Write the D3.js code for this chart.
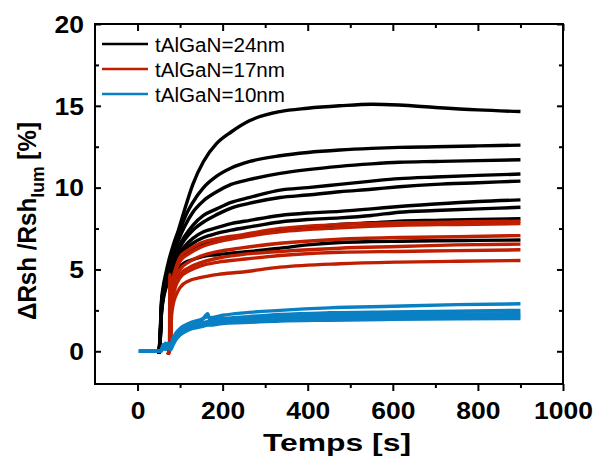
<!DOCTYPE html>
<html><head><meta charset="utf-8">
<script src="https://cdn.jsdelivr.net/npm/d3@7"></script>
<style>body{margin:0;background:#fff}</style></head>
<body><svg id="c" width="595" height="457"></svg>
<script>
// ---- data ----
const xTicks = [0, 200, 400, 600, 800, 1000];
const xMinor = [100, 300, 500, 700, 900];
const yTicks = [0, 5, 10, 15, 20];
const yMinor = [2.5, 7.5, 12.5, 17.5];
const legendLabels = ["tAlGaN=24nm", "tAlGaN=17nm", "tAlGaN=10nm"];

// tAlGaN = 24 nm (black)
const tBlack = [50, 53, 56, 60, 66, 74, 84, 96, 110, 130, 155, 186, 220, 264, 335, 400, 475, 550, 615, 700, 800, 900];
const black1 = [-0.15, 1.0, 3.0, 3.9, 4.7, 5.6, 6.5, 7.4, 8.6, 10.2, 11.6, 12.7, 13.4, 14.1, 14.65, 14.85, 15.0, 15.1, 15.05, 14.9, 14.75, 14.65];
const black2 = [-0.15, 0.8, 2.8, 3.7, 4.5, 5.3, 6.2, 7.1, 8.1, 9.1, 10.0, 10.7, 11.2, 11.6, 11.95, 12.15, 12.3, 12.4, 12.46, 12.5, 12.55, 12.6];
const black3 = [-0.15, 0.8, 2.7, 3.6, 4.4, 5.2, 6.0, 6.8, 7.6, 8.5, 9.2, 9.75, 10.2, 10.5, 10.87, 11.1, 11.3, 11.45, 11.55, 11.6, 11.65, 11.7];
const black4 = [-0.15, 0.7, 2.6, 3.5, 4.3, 5.0, 5.7, 6.4, 7.0, 7.7, 8.3, 8.7, 9.1, 9.4, 9.85, 10.0, 10.2, 10.4, 10.55, 10.65, 10.75, 10.83];
const black5 = [-0.15, 0.7, 2.5, 3.4, 4.2, 4.9, 5.6, 6.2, 6.8, 7.4, 7.9, 8.35, 8.75, 9.05, 9.4, 9.55, 9.75, 9.9, 10.05, 10.2, 10.3, 10.4];
const black6 = [-0.15, 0.6, 2.4, 3.3, 4.1, 4.8, 5.4, 5.9, 6.4, 6.9, 7.3, 7.55, 7.8, 8.0, 8.3, 8.45, 8.55, 8.7, 8.85, 9.0, 9.15, 9.25];
const black7 = [-0.15, 0.6, 2.4, 3.3, 4.0, 4.7, 5.3, 5.8, 6.2, 6.6, 6.95, 7.2, 7.4, 7.6, 7.9, 8.05, 8.15, 8.3, 8.5, 8.6, 8.7, 8.8];
const black8 = [-0.15, 0.5, 2.3, 3.2, 3.9, 4.6, 5.1, 5.5, 5.9, 6.2, 6.5, 6.7, 6.9, 7.1, 7.4, 7.55, 7.75, 7.85, 7.95, 8.0, 8.05, 8.1];
const black9 = [-0.15, 0.5, 2.2, 3.1, 3.8, 4.4, 4.8, 5.1, 5.4, 5.6, 5.8, 5.9, 6.0, 6.1, 6.3, 6.5, 6.65, 6.7, 6.72, 6.75, 6.78, 6.8];

// tAlGaN = 17 nm (red)
const tRed = [72, 75, 76, 77, 80, 84, 90, 100, 120, 147, 190, 241, 335, 475, 615, 750, 900];
const red1 = [-0.2, 0.3, 4.7, 0.6, 3.6, 4.5, 5.1, 5.75, 6.2, 6.6, 6.9, 7.1, 7.5, 7.75, 7.85, 7.9, 7.95];
const red2 = [-0.2, 0.2, 0.4, 0.8, 3.4, 4.3, 4.9, 5.5, 5.95, 6.35, 6.7, 6.95, 7.3, 7.55, 7.7, 7.75, 7.8];
const red3 = [-0.2, 0.2, 0.3, 0.6, 3.0, 3.9, 4.5, 5.0, 5.45, 5.8, 6.1, 6.3, 6.6, 6.85, 6.95, 7.0, 7.07];
const red4 = [-0.2, 0.1, 0.2, 0.5, 2.8, 3.6, 4.2, 4.7, 5.1, 5.4, 5.7, 5.9, 6.1, 6.3, 6.4, 6.5, 6.55];
const red5 = [-0.2, 0.1, 0.2, 0.4, 2.6, 3.4, 4.0, 4.5, 4.9, 5.2, 5.45, 5.6, 5.85, 6.05, 6.1, 6.15, 6.2];
const red6 = [-0.2, 0.0, 0.1, 0.3, 2.2, 2.9, 3.4, 3.9, 4.3, 4.5, 4.7, 4.83, 5.14, 5.35, 5.45, 5.5, 5.55];

// tAlGaN = 10 nm (blue)
const tBlue = [3, 55, 60, 66, 72, 78, 82, 90, 100, 120, 150, 165, 170, 200, 250, 335, 450, 600, 750, 900];
const blue1 = [0, 0, 0.4, 0.2, 0.5, 0.3, 0.7, 1.1, 1.4, 1.7, 1.95, 2.1, 2.05, 2.2, 2.35, 2.5, 2.65, 2.75, 2.85, 2.9];
const blue2 = [0, 0, 0.3, 0.5, 0.2, 0.2, 0.6, 1.0, 1.3, 1.6, 1.85, 2.3, 1.9, 2.0, 2.1, 2.25, 2.35, 2.4, 2.45, 2.5];
const blue3 = [0, 0, 0.2, 0.3, 0.4, 0.1, 0.5, 0.9, 1.2, 1.5, 1.7, 1.8, 1.8, 1.9, 2.0, 2.1, 2.2, 2.25, 2.28, 2.3];
const blue4 = [0, 0, 0.3, 0.1, 0.3, 0.2, 0.4, 0.8, 1.1, 1.4, 1.6, 1.7, 1.7, 1.8, 1.9, 2.0, 2.05, 2.1, 2.12, 2.15];
const blue5 = [0, 0, 0.2, 0.4, 0.2, 0.1, 0.3, 0.7, 1.0, 1.3, 1.5, 1.6, 1.6, 1.7, 1.75, 1.85, 1.9, 1.95, 1.98, 2.0];

const COL_BLACK = "#000000", COL_RED = "#c01e00", COL_BLUE = "#0a80c4";

// ---- drawing ----
const svg = d3.select("#c");
svg.append("rect").attr("width", 595).attr("height", 457).attr("fill", "#fff");
const L = 95, R = 563, T = 24, B = 384;
const x = d3.scaleLinear().domain([-100, 1000]).range([L, R]);
const y = d3.scaleLinear().domain([-2, 20]).range([B, T]);

function stretch(sel, k) {
  sel.each(function () {
    const w = this.getComputedTextLength();
    d3.select(this).attr("textLength", w * k).attr("lengthAdjust", "spacingAndGlyphs");
  });
}

const line = d3.line().x(d => x(d[0])).y(d => y(d[1])).curve(d3.curveMonotoneX);
const plot = svg.append("g");
function series(ts, vs, col) {
  plot.append("path").datum(ts.map((t, i) => [t, vs[i]]))
    .attr("d", line).attr("fill", "none").attr("stroke", col)
    .attr("stroke-width", 3.4).attr("stroke-linejoin", "round");
}
[black1, black2, black3, black4, black5, black6, black7, black8, black9].forEach(v => series(tBlack, v, COL_BLACK));
[red1, red2, red3, red4, red5, red6].forEach(v => series(tRed, v, COL_RED));
[blue1, blue2, blue3, blue4, blue5].forEach(v => series(tBlue, v, COL_BLUE));

// axes
const fnt = "'Liberation Sans', Arial, sans-serif";
const bottom = d3.axisBottom(x).tickValues(xTicks).tickSize(7).tickPadding(9).tickFormat(d3.format("d"));
const gB = svg.append("g").attr("transform", `translate(0,${B})`).call(bottom);
svg.append("g").attr("transform", `translate(0,${B})`).call(d3.axisBottom(x).tickValues(xMinor).tickSize(4).tickFormat(""));
svg.append("g").attr("transform", `translate(0,${T})`).call(d3.axisBottom(x).tickValues(xTicks).tickSize(7).tickFormat(""));
svg.append("g").attr("transform", `translate(0,${T})`).call(d3.axisBottom(x).tickValues(xMinor).tickSize(4).tickFormat(""));
const gL = svg.append("g").attr("transform", `translate(${L},0)`).call(d3.axisRight(y).tickValues(yTicks).tickSize(6).tickFormat(d3.format("d")));
svg.append("g").attr("transform", `translate(${L},0)`).call(d3.axisRight(y).tickValues(yMinor).tickSize(4).tickFormat(""));
svg.append("g").attr("transform", `translate(${R},0)`).call(d3.axisLeft(y).tickValues(yTicks).tickSize(6).tickFormat(""));
svg.append("g").attr("transform", `translate(${R},0)`).call(d3.axisLeft(y).tickValues(yMinor).tickSize(4).tickFormat(""));
svg.selectAll(".domain").remove();
svg.selectAll(".tick line").attr("stroke", "#000").attr("stroke-width", 2);

gB.selectAll(".tick text").attr("font-family", fnt).attr("font-weight", "bold")
  .attr("font-size", 23).attr("fill", "#000").attr("dy", null).attr("y", 35);
gL.selectAll(".tick text").attr("font-family", fnt).attr("font-weight", "bold")
  .attr("font-size", 23).attr("fill", "#000").attr("text-anchor", "end")
  .attr("x", -11).attr("dy", "0.36em");

svg.append("rect").attr("x", L).attr("y", T).attr("width", R - L).attr("height", B - T)
  .attr("fill", "none").attr("stroke", "#000").attr("stroke-width", 2);

stretch(gB.selectAll(".tick text"), 1.15);
stretch(gL.selectAll(".tick text"), 1.15);

// axis titles
svg.append("text").attr("x", 337).attr("y", 451)
  .attr("text-anchor", "middle").attr("font-family", fnt).attr("font-weight", "bold")
  .attr("font-size", 23).text("Temps [s]")
  .attr("textLength", 148).attr("lengthAdjust", "spacingAndGlyphs");

const yt = svg.append("text")
  .attr("text-anchor", "middle").attr("font-family", fnt).attr("font-weight", "bold")
  .attr("font-size", 26);
yt.append("tspan").text("\u0394Rsh /Rsh");
yt.append("tspan").attr("font-size", 19).attr("dy", 8).text("lum");
yt.append("tspan").attr("dy", -8).text(" [%]");
const ytw = yt.node().getBBox().width;
yt.attr("transform", `translate(36,221) rotate(-90) scale(${198 / ytw},1)`);

// legend
const leg = svg.append("g");
const legCols = [COL_BLACK, COL_RED, COL_BLUE];
legendLabels.forEach((lab, i) => {
  const yy = 44 + i * 25;
  leg.append("line").attr("x1", 102).attr("x2", 148).attr("y1", yy).attr("y2", yy)
    .attr("stroke", legCols[i]).attr("stroke-width", 2.5);
  leg.append("text").attr("x", 155).attr("y", yy + 8).attr("font-family", fnt)
    .attr("font-size", 20).attr("fill", "#000").text(lab)
    .attr("textLength", 130).attr("lengthAdjust", "spacingAndGlyphs");
});
</script></body></html>
